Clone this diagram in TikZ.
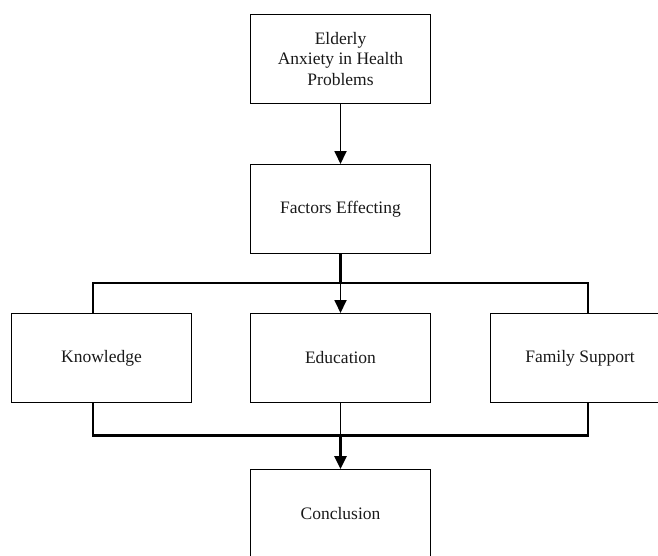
\documentclass[tikz,border=0pt]{standalone}
\usepackage{fontspec}
\setmainfont{Liberation Serif}
\usetikzlibrary{arrows.meta}
\begin{document}
\begin{tikzpicture}[x=1pt,y=-1pt,
  box/.style={draw=black,line width=1pt,fill=white,minimum width=180pt,minimum height=89pt,inner sep=0pt,align=center,
    font=\fontsize{17.5}{20.5}\selectfont,text=black!90},
  bracket/.style={draw=black,line width=2.8pt},
  shaft/.style={draw=black,line width=1.8pt},
  arrowtip/.style={-{Triangle[length=13pt,width=12pt]}}]
\useasboundingbox[fill=white] (0,0) rectangle (658,555);
% nodes
\node[box] (el) at (340.5,59) {Elderly\\Anxiety in Health\\Problems};
\node[box] (fe) at (340.5,209) {Factors Effecting};
\node[box] (kn) at (101.5,358) {Knowledge};
\node[box] (ed) at (340.5,358) {Education};
\node[box] (fs) at (580,358) {Family Support};
\node[box] (co) at (340.5,514) {Conclusion};
% bracket coordinates
\coordinate (tl) at (93,283);
\coordinate (tr) at (588,283);
\coordinate (bl) at (93,435.5);
\coordinate (br) at (588,435.5);
% connectors
\draw[shaft,arrowtip] (el.south) -- (fe.north);
\draw[bracket] (kn.north -| tl) -- (tl) -- (tr) -- (fs.north -| tr);
\draw[bracket] (fe.south) -- (fe.south |- tl);
\draw[shaft,arrowtip] (fe.south |- tl) -- (ed.north);
\draw[bracket] (kn.south -| bl) -- (bl) -- (br) -- (fs.south -| br);
\draw[shaft] (ed.south) -- (ed.south |- bl);
\draw[bracket,arrowtip] (ed.south |- bl) -- (co.north);
\end{tikzpicture}
\end{document}
